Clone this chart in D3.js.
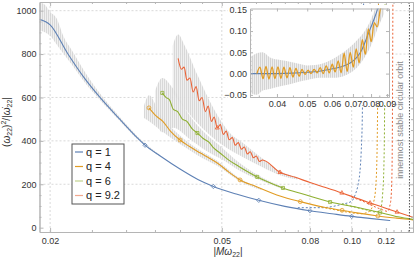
<!DOCTYPE html>
<html>
<head>
<meta charset="utf-8">
<script src="https://cdn.jsdelivr.net/npm/d3@7"></script>
<style>
body { margin: 0; background: #fff; }
svg { font-family: "Liberation Sans", Arial, sans-serif; }
</style>
</head>
<body>
<div id="chart"></div>
<script>
// main curves: |M w22| vs (w22)^2/|dw22/dt|
const q1Freq = [0.0189,0.0200,0.0220,0.0240,0.0261,0.0290,0.0320,0.0332,0.0360,0.0400,0.0440,0.0478,0.0540,0.0609,0.0700,0.0800,0.0900,0.1000,0.1100,0.1228];
const q1Val  = [960,935,800,690,600,500,410,380,330,270,222,190,155,126,98,78,64,52,43,33];

const q4Freq = [0.0339,0.0352,0.0365,0.0380,0.0400,0.0420,0.0445,0.0470,0.0488,0.0520,0.0551,0.0600,0.0682,0.0760,0.0858,0.0950,0.1029,0.1150,0.1270,0.1387];
const q4Val  = [552,515,490,445,404,375,345,318,298,255,220,190,146,120,95,80,68,54,44,36];

const q6Freq = [0.0364,0.0371,0.0378,0.0386,0.0395,0.0405,0.0415,0.0427,0.0439,0.0452,0.0466,0.0480,0.0495,0.0520,0.0550,0.0604,0.0650,0.0693,0.0771,0.0891,0.1046,0.1164,0.1280,0.1387];
const q6Val  = [621,600,590,545,535,500,490,455,436,412,395,365,344,310,280,234,205,183,155,118,91,70,50,38];

const q92Freq = [0.0396,0.0403,0.0409,0.0415,0.0422,0.0429,0.0436,0.0443,0.0450,0.0458,0.0465,0.0473,0.0480,0.0488,0.0496,0.0504,0.0512,0.0520,0.0529,0.0537,0.0546,0.0555,0.0564,0.0573,0.0582,0.0592,0.0601,0.0611,0.0621,0.0682,0.0740,0.0801,0.0870,0.0949,0.1020,0.1103,0.1190,0.1274,0.1387];
const q92Val  = [780,730,740,680,690,625,650,585,600,535,560,490,510,460,475,430,445,405,415,380,392,362,372,340,350,322,330,305,312,255,232,208,185,160,138,114,92,72,48];

// marker positions (indices into the series)
const q1Marks = [7,11,13,15,17];
const q4Marks = [0,4,10,13,15,17];
const q6Marks = [0,8,15,17,19,21];
const q92Marks = [13,29,33,35,37];

// gray raw-data envelopes
const q1BandFreq = [0.0189,0.0195,0.0200,0.0207,0.0215,0.0225,0.0240,0.0261,0.0290,0.0320,0.0360];
const q1BandLo   = [910,900,885,845,800,750,672,588,492,404,327];
const q1BandHi   = [1040,1025,995,965,880,815,722,618,510,418,334];
const q4BandFreq = [0.0330,0.0339,0.0360,0.0400,0.0440,0.0488,0.0551,0.0620];
const q4BandLo   = [505,490,450,385,333,285,213,172];
const q4BandHi   = [560,610,520,425,362,308,226,180];
const q6BandFreq = [0.0350,0.0364,0.0386,0.0420,0.0460,0.0500,0.0550,0.0604,0.0693];
const q6BandLo   = [500,440,460,410,355,315,262,224,178];
const q6BandHi   = [630,690,640,520,430,370,298,244,188];
const q92BandFreq = [0.0385,0.0396,0.0410,0.0440,0.0480,0.0520,0.0560,0.0620,0.0680,0.0750];
const q92BandLo   = [620,590,550,480,410,360,325,280,243,222];
const q92BandHi   = [840,890,840,700,545,440,390,320,262,232];

// dashed approximations diverging near the end
const pn1Freq = [0.075,0.085,0.095,0.100,0.1018,0.1035,0.1044,0.1052,0.1058,0.1062,0.1066];
const pn1Val  = [92,92,108,122,150,200,250,350,500,750,1060];
const pn4Freq = [0.085,0.095,0.100,0.105,0.110,0.1125,0.1138,0.1146,0.1150,0.1154];
const pn4Val  = [95,76,68,64,76,120,200,400,700,1060];
const pn6Freq = [0.095,0.102,0.108,0.114,0.1165,0.1180,0.1188,0.1192,0.1195];
const pn6Val  = [110,94,82,72,80,160,300,550,1060];
const pn92Freq = [0.100,0.106,0.112,0.118,0.121,0.1230,0.1238,0.1242,0.1244,0.1246];
const pn92Val  = [140,122,100,82,75,115,200,400,700,1060];

const iscoFreq = 0.1361;

// inset data
const insetQ1Freq = [0.0328,0.0360,0.0400,0.0450,0.0500,0.0540,0.0580,0.0620,0.0660,0.0690,0.0720,0.0740,0.0760,0.0780,0.0800,0.0820,0.0840,0.0860];
const insetQ1Val  = [0.000,0.000,0.000,0.001,0.003,0.005,0.009,0.013,0.019,0.026,0.038,0.050,0.068,0.090,0.110,0.130,0.152,0.175];
const insetQ4Freq = [0.0345,0.0353,0.0361,0.0369,0.0377,0.0386,0.0394,0.0403,0.0412,0.0421,0.0431,0.0440,0.0450,0.0460,0.0471,0.0481,0.0492,0.0503,0.0514,0.0526,0.0538,0.0550,0.0562,0.0575,0.0588,0.0601,0.0614,0.0628,0.0642,0.0656,0.0671,0.0686,0.0702,0.0717,0.0733,0.0750,0.0767,0.0784,0.0801,0.0819,0.0837,0.0856,0.0875];
const insetQ4Val  = [0.000,0.015,-0.012,0.017,-0.013,0.016,-0.012,0.016,-0.011,0.015,-0.010,0.014,-0.008,0.012,-0.006,0.010,-0.002,0.008,0.000,0.010,0.002,0.014,0.000,0.018,0.002,0.022,0.004,0.030,0.002,0.048,0.005,0.050,0.015,0.058,0.025,0.080,0.045,0.105,0.075,0.120,0.110,0.150,0.165];
const insetBandFreq = [0.0328,0.0345,0.0360,0.0380,0.0410,0.0440,0.0470,0.0500,0.0530,0.0560,0.0600,0.0640,0.0680,0.0720,0.0760,0.0800,0.0840,0.0880];
const insetBandLo   = [-0.045,-0.050,-0.040,-0.036,-0.030,-0.025,-0.019,-0.015,-0.011,-0.010,-0.010,-0.008,0.000,0.014,0.036,0.066,0.106,0.140];
const insetBandHi   = [0.038,0.048,0.050,0.038,0.032,0.028,0.023,0.019,0.020,0.024,0.033,0.046,0.060,0.078,0.098,0.128,0.168,0.200];

// ticks
const xMajor = [0.02,0.05,0.08,0.1,0.12];
const xMinor = [0.025,0.03,0.035,0.04,0.045,0.055,0.06,0.065,0.07,0.075,0.085,0.09,0.095,0.105,0.11,0.115,0.125,0.13,0.135];
const xGrid = [0.02,0.05,0.08,0.1];
const yMajor = [0,200,400,600,800,1000];
const yMinor = [50,100,150,250,300,350,450,500,550,650,700,750,850,900,950];
const yGrid = [200,400,600,800,1000];
const insetXMajor = [0.04,0.05,0.06,0.07,0.08,0.09];
const insetXMinor = [0.035,0.045,0.055,0.065,0.075,0.085];
const insetYMajor = [-0.05,0,0.05,0.1,0.15];
const insetYMinor = [-0.04,-0.03,-0.02,-0.01,0.01,0.02,0.03,0.04,0.06,0.07,0.08,0.09,0.11,0.12,0.13,0.14];

const legendLabels = ["q = 1","q = 4","q = 6","q = 9.2"];
const colors = ["#5E81B5","#E19C24","#8FB032","#EB6235"];

const W = 415, H = 261;
const svg = d3.select("#chart").append("svg").attr("width", W).attr("height", H);

// striped texture for the noisy raw data
const defs = svg.append("defs");
const pat = defs.append("pattern").attr("id", "noise").attr("patternUnits", "userSpaceOnUse")
  .attr("width", 2).attr("height", 6);
pat.append("rect").attr("width", 2).attr("height", 6).attr("fill", "#eeeeee");
pat.append("rect").attr("width", 1).attr("height", 6).attr("fill", "#d4d4d4");

const x = d3.scaleLog().domain([0.0189, 0.1387]).range([39.5, 413]);
const y = d3.scaleLinear().domain([-20, 1040]).range([232, 2]);

svg.append("clipPath").attr("id", "mainClip")
  .append("rect").attr("x", 39.5).attr("y", 2).attr("width", 373.5).attr("height", 230);

// grid
svg.append("g").selectAll("line").data(xGrid).enter().append("line")
  .attr("x1", d => x(d)).attr("x2", d => x(d)).attr("y1", 2).attr("y2", 232)
  .attr("stroke", "#cfcfcf").attr("stroke-width", 0.8).attr("stroke-dasharray", "2,2");
svg.append("g").selectAll("line").data(yGrid).enter().append("line")
  .attr("x1", 39.5).attr("x2", 413).attr("y1", d => y(d)).attr("y2", d => y(d))
  .attr("stroke", "#cfcfcf").attr("stroke-width", 0.8).attr("stroke-dasharray", "2,2");

const plot = svg.append("g").attr("clip-path", "url(#mainClip)");

const zipBand = (f, lo, hi) => f.map((d, i) => ({f: d, lo: lo[i], hi: hi[i]}));
const zipLine = (f, v) => f.map((d, i) => ({f: d, v: v[i]}));

const area = d3.area().x(d => x(d.f)).y0(d => y(d.lo)).y1(d => y(d.hi)).curve(d3.curveMonotoneX);
[[q1BandFreq,q1BandLo,q1BandHi],[q4BandFreq,q4BandLo,q4BandHi],[q6BandFreq,q6BandLo,q6BandHi],[q92BandFreq,q92BandLo,q92BandHi]]
  .forEach(b => {
    plot.append("path").datum(zipBand(b[0], b[1], b[2]))
      .attr("d", area).attr("fill", "url(#noise)").attr("opacity", 0.9);
  });

const line = d3.line().x(d => x(d.f)).y(d => y(d.v)).curve(d3.curveMonotoneX);

// dashed curves
[[pn1Freq,pn1Val],[pn4Freq,pn4Val],[pn6Freq,pn6Val],[pn92Freq,pn92Val]].forEach((s, i) => {
  plot.append("path").datum(zipLine(s[0], s[1]))
    .attr("d", line).attr("fill", "none").attr("stroke", colors[i])
    .attr("stroke-width", 1).attr("stroke-dasharray", "2,2");
});

// solid curves with markers
const series = [[q1Freq,q1Val,q1Marks],[q4Freq,q4Val,q4Marks],[q6Freq,q6Val,q6Marks],[q92Freq,q92Val,q92Marks]];
const shapes = [d3.symbolDiamond2, d3.symbolCircle, d3.symbolSquare2, d3.symbolTriangle2];
series.forEach((s, i) => {
  const pts = zipLine(s[0], s[1]);
  plot.append("path").datum(pts)
    .attr("d", line).attr("fill", "none").attr("stroke", colors[i]).attr("stroke-width", 1.1);
  plot.append("g").selectAll("path").data(s[2].map(k => pts[k])).enter().append("path")
    .attr("transform", d => `translate(${x(d.f)},${y(d.v)})`)
    .attr("d", d3.symbol().type(shapes[i]).size(12))
    .attr("fill", "none").attr("stroke", colors[i]).attr("stroke-width", 0.8);
});

// ISCO
svg.append("line")
  .attr("x1", x(iscoFreq)).attr("x2", x(iscoFreq)).attr("y1", 2).attr("y2", 232)
  .attr("stroke", "#555").attr("stroke-width", 1).attr("stroke-dasharray", "1.5,1.5");
svg.append("text")
  .attr("transform", `translate(${x(iscoFreq) - 6},120) rotate(-90)`)
  .attr("text-anchor", "middle").attr("font-size", 9).attr("fill", "#8a8a8a")
  .text("innermost stable circular orbit");

// axes (Mathematica-style frame, ticks inward)
function styleAxis(g) {
  g.select(".domain").attr("stroke", "#b5b5b5");
  g.selectAll(".tick line").attr("stroke", "#b5b5b5");
  g.selectAll("text").attr("fill", "#333").attr("font-size", 9);
}
const fmt = d => d.toFixed(2);
svg.append("g").attr("transform", "translate(0,232)")
  .call(d3.axisBottom(x).tickValues(xMajor).tickFormat(fmt).tickSizeInner(-4).tickSizeOuter(0).tickPadding(6))
  .call(styleAxis);
svg.append("g").attr("transform", "translate(0,232)")
  .call(d3.axisBottom(x).tickValues(xMinor).tickFormat("").tickSizeInner(-2).tickSizeOuter(0))
  .call(styleAxis);
svg.append("g").attr("transform", "translate(0,2)")
  .call(d3.axisTop(x).tickValues(xMajor).tickFormat("").tickSizeInner(-4).tickSizeOuter(0))
  .call(styleAxis);
svg.append("g").attr("transform", "translate(0,2)")
  .call(d3.axisTop(x).tickValues(xMinor).tickFormat("").tickSizeInner(-2).tickSizeOuter(0))
  .call(styleAxis);
svg.append("g").attr("transform", "translate(39.5,0)")
  .call(d3.axisLeft(y).tickValues(yMajor).tickFormat(d3.format("d")).tickSizeInner(-4).tickSizeOuter(0).tickPadding(3))
  .call(styleAxis);
svg.append("g").attr("transform", "translate(39.5,0)")
  .call(d3.axisLeft(y).tickValues(yMinor).tickFormat("").tickSizeInner(-2).tickSizeOuter(0))
  .call(styleAxis);
svg.append("g").attr("transform", "translate(413,0)")
  .call(d3.axisRight(y).tickValues(yMajor).tickFormat("").tickSizeInner(-4).tickSizeOuter(0))
  .call(styleAxis);
svg.append("g").attr("transform", "translate(413,0)")
  .call(d3.axisRight(y).tickValues(yMinor).tickFormat("").tickSizeInner(-2).tickSizeOuter(0))
  .call(styleAxis);

// axis labels
const yLab = svg.append("text")
  .attr("transform", "translate(10,122) rotate(-90)")
  .attr("text-anchor", "middle").attr("font-size", 10).attr("fill", "#333");
yLab.append("tspan").text("(");
yLab.append("tspan").attr("font-style", "italic").text("ω");
yLab.append("tspan").attr("font-size", 7).attr("dy", 2).text("22");
yLab.append("tspan").attr("dy", -2).text(")");
yLab.append("tspan").attr("font-size", 7).attr("dy", -4).text("2");
yLab.append("tspan").attr("dy", 4).text("/|");
yLab.append("tspan").attr("font-style", "italic").text("ω̇");
yLab.append("tspan").attr("font-size", 7).attr("dy", 2).text("22");
yLab.append("tspan").attr("dy", -2).text("|");

const xLab = svg.append("text")
  .attr("x", 228).attr("y", 255)
  .attr("text-anchor", "middle").attr("font-size", 10).attr("fill", "#333");
xLab.append("tspan").text("|");
xLab.append("tspan").attr("font-style", "italic").text("Mω");
xLab.append("tspan").attr("font-size", 7).attr("dy", 2).text("22");
xLab.append("tspan").attr("dy", -2).text("|");

// legend
const legend = svg.append("g");
legend.append("rect").attr("x", 72).attr("y", 144).attr("width", 52).attr("height", 60)
  .attr("fill", "#fff").attr("stroke", "#555").attr("stroke-width", 1);
const legY = d3.scalePoint().domain(legendLabels).range([152, 195.5]);
legendLabels.forEach((lab, i) => {
  legend.append("line").attr("x1", 75).attr("x2", 83).attr("y1", legY(lab)).attr("y2", legY(lab))
    .attr("stroke", colors[i]).attr("stroke-width", 1.2).attr("opacity", i < 2 ? 1 : 0.55);
  legend.append("text").attr("x", 86).attr("y", legY(lab)).attr("dy", "0.35em")
    .attr("font-size", 11).attr("fill", "#222").text(lab);
});

// inset
const ix = d3.scaleLog().domain([0.0328, 0.0913]).range([250, 389]);
const iy = d3.scaleLinear().domain([-0.055, 0.153]).range([97, 8.5]);
const inset = svg.append("g");
inset.append("rect").attr("x", 228).attr("y", 5).attr("width", 164).attr("height", 100).attr("fill", "#fff");
inset.append("clipPath").attr("id", "insetClip")
  .append("rect").attr("x", 250).attr("y", 8.5).attr("width", 139).attr("height", 88.5);
const ip = inset.append("g").attr("clip-path", "url(#insetClip)");

const iArea = d3.area().x(d => ix(d.f)).y0(d => iy(d.lo)).y1(d => iy(d.hi)).curve(d3.curveMonotoneX);
ip.append("path").datum(zipBand(insetBandFreq, insetBandLo, insetBandHi))
  .attr("d", iArea).attr("fill", "url(#noise)");
const iLine = d3.line().x(d => ix(d.f)).y(d => iy(d.v)).curve(d3.curveMonotoneX);
ip.append("path").datum(zipLine(insetQ1Freq, insetQ1Val))
  .attr("d", iLine).attr("fill", "none").attr("stroke", colors[0]).attr("stroke-width", 1.1);
ip.append("path").datum(zipLine(insetQ4Freq, insetQ4Val))
  .attr("d", iLine).attr("fill", "none").attr("stroke", colors[1]).attr("stroke-width", 1.3);

inset.append("g").attr("transform", "translate(0,97)")
  .call(d3.axisBottom(ix).tickValues(insetXMajor).tickFormat(fmt).tickSizeInner(-3).tickSizeOuter(0).tickPadding(4))
  .call(styleAxis);
inset.append("g").attr("transform", "translate(0,97)")
  .call(d3.axisBottom(ix).tickValues(insetXMinor).tickFormat("").tickSizeInner(-1.5).tickSizeOuter(0))
  .call(styleAxis);
inset.append("g").attr("transform", "translate(0,8.5)")
  .call(d3.axisTop(ix).tickValues(insetXMajor).tickFormat("").tickSizeInner(-3).tickSizeOuter(0))
  .call(styleAxis);
inset.append("g").attr("transform", "translate(250,0)")
  .call(d3.axisLeft(iy).tickValues(insetYMajor).tickFormat(d => d < 0 ? "−" + fmt(-d) : fmt(d)).tickSizeInner(-3).tickSizeOuter(0).tickPadding(3))
  .call(styleAxis);
inset.append("g").attr("transform", "translate(250,0)")
  .call(d3.axisLeft(iy).tickValues(insetYMinor).tickFormat("").tickSizeInner(-1.5).tickSizeOuter(0))
  .call(styleAxis);
inset.append("g").attr("transform", "translate(389,0)")
  .call(d3.axisRight(iy).tickValues(insetYMajor).tickFormat("").tickSizeInner(-3).tickSizeOuter(0))
  .call(styleAxis);
</script>
</body>
</html>
